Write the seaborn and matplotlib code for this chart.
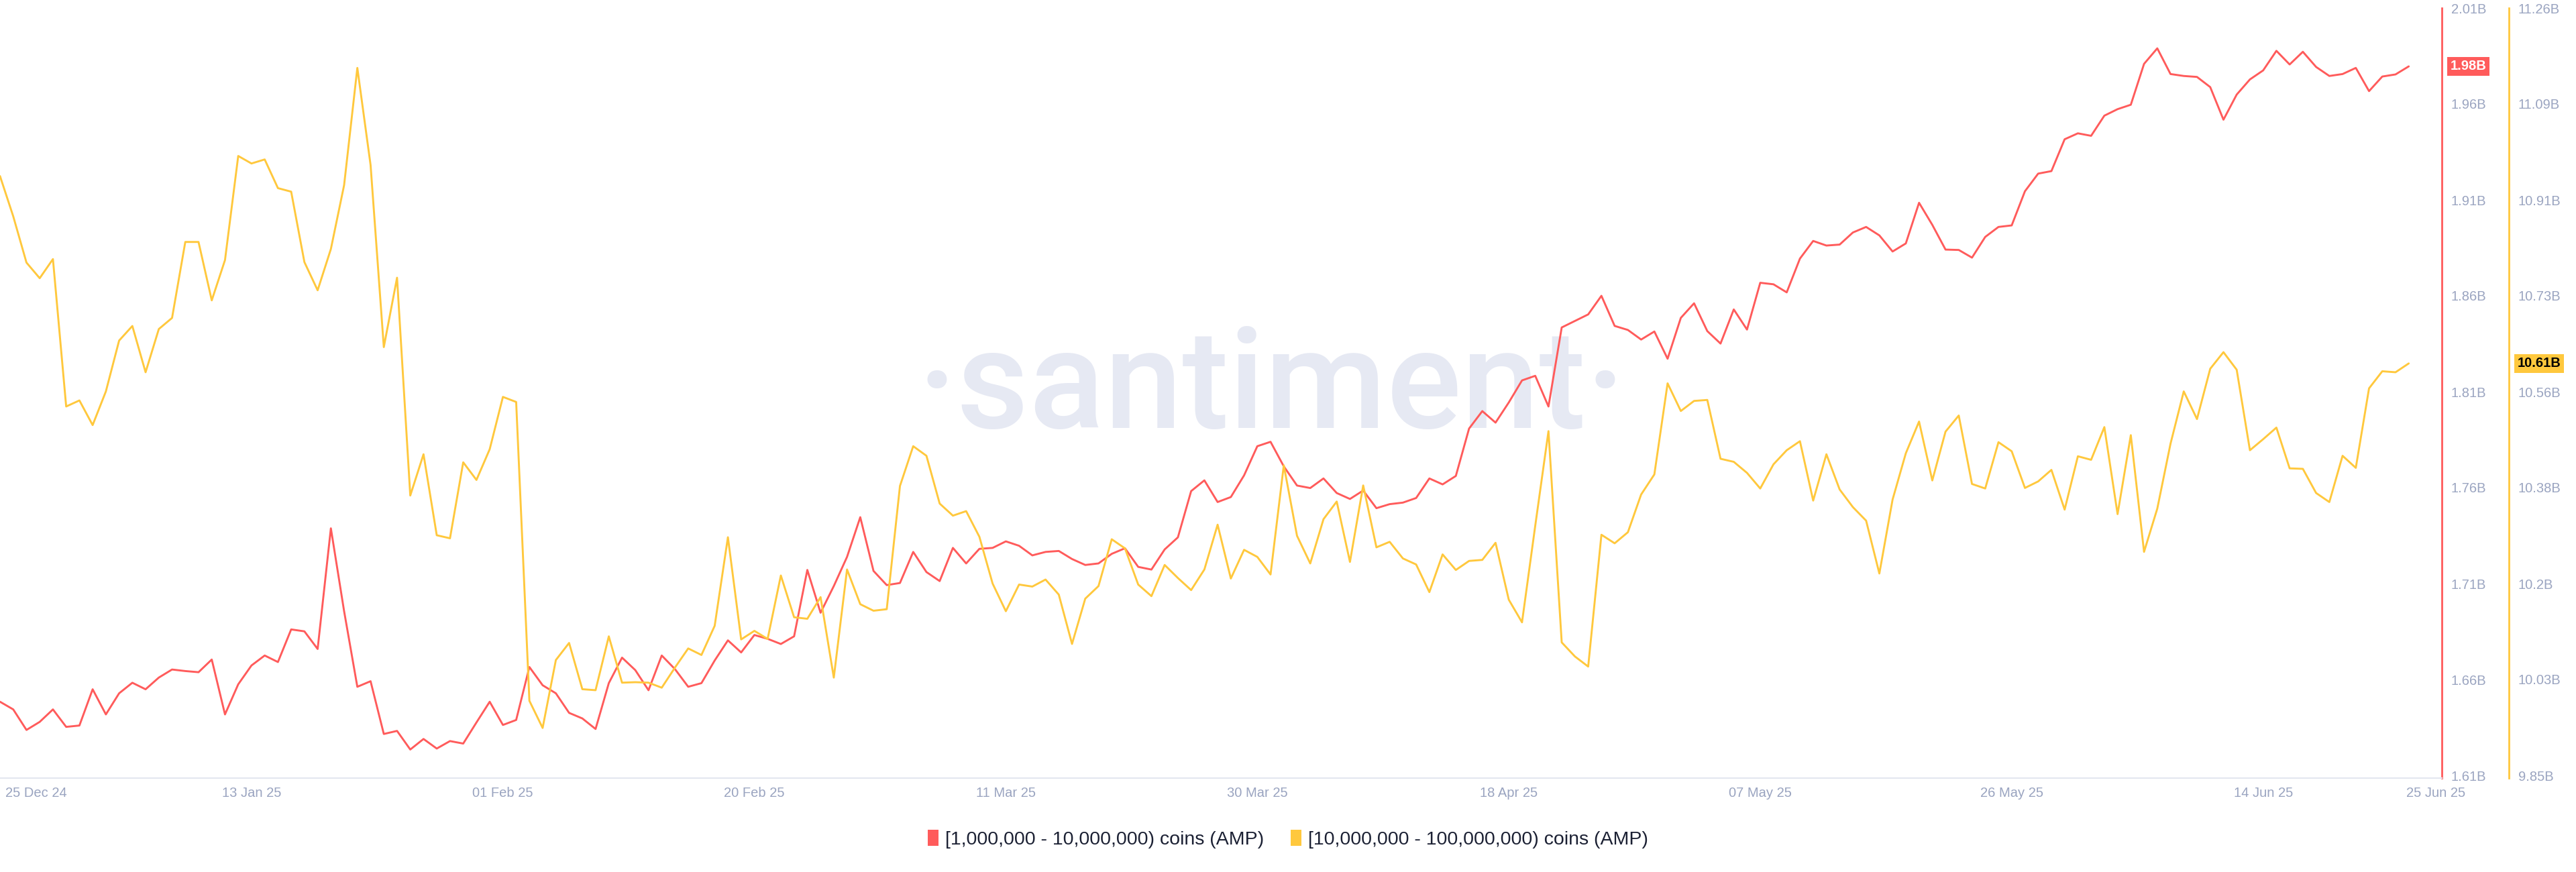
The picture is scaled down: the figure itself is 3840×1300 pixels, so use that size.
import numpy as np
import pandas as pd
import matplotlib
matplotlib.use("Agg")
import matplotlib.pyplot as plt
import matplotlib.transforms as mtransforms
from matplotlib.patches import Patch
import seaborn as sns

# ---------------- data ----------------
start_date = "2024-12-25"

red_series = [
    1.6484, 1.6444, 1.6337, 1.6379, 1.6444, 1.6353, 1.6360, 1.6549, 1.6418, 1.6528,
    1.6583, 1.6549, 1.6610, 1.6652, 1.6644, 1.6638, 1.6704, 1.6418, 1.6575, 1.6673,
    1.6725, 1.6691, 1.6861, 1.6851, 1.6759, 1.7388, 1.6956, 1.6562, 1.6591, 1.6316,
    1.6332, 1.6235, 1.6290, 1.6240, 1.6279, 1.6266, 1.6376, 1.6484, 1.6363, 1.6389,
    1.6665, 1.6570, 1.6528, 1.6426, 1.6397, 1.6342, 1.6581, 1.6714, 1.6649, 1.6544,
    1.6725, 1.6654, 1.6562, 1.6581, 1.6699, 1.6804, 1.6741, 1.6832, 1.6812, 1.6785,
    1.6825, 1.7171, 1.6948, 1.7087, 1.7239, 1.7446, 1.7166, 1.7092, 1.7103, 1.7265,
    1.7160, 1.7113, 1.7286, 1.7205, 1.7281, 1.7286, 1.7320, 1.7297, 1.7247, 1.7265,
    1.7270, 1.7228, 1.7197, 1.7205, 1.7255, 1.7284, 1.7187, 1.7173, 1.7278, 1.7341,
    1.7582, 1.7638, 1.7525, 1.7551, 1.7664, 1.7816, 1.7839, 1.7711, 1.7611, 1.7598,
    1.7648, 1.7572, 1.7541, 1.7585, 1.7493, 1.7514, 1.7522, 1.7546, 1.7648, 1.7617,
    1.7661, 1.7908, 1.7999, 1.7939, 1.8044, 1.8159, 1.8183, 1.8023, 1.8435, 1.8469,
    1.8503, 1.8600, 1.8443, 1.8422, 1.8372, 1.8414, 1.8272, 1.8485, 1.8561, 1.8416,
    1.8351, 1.8529, 1.8424, 1.8668, 1.8660, 1.8618, 1.8794, 1.8886, 1.8862, 1.8867,
    1.8930, 1.8959, 1.8915, 1.8831, 1.8873, 1.9085, 1.8970, 1.8841, 1.8839, 1.8799,
    1.8907, 1.8959, 1.8967, 1.9145, 1.9237, 1.9250, 1.9416, 1.9447, 1.9434, 1.9539,
    1.9573, 1.9596, 1.9809, 1.9890, 1.9756, 1.9746, 1.9741, 1.9688, 1.9518, 1.9649,
    1.9728, 1.9775, 1.9877, 1.9806, 1.9872, 1.9793, 1.9746, 1.9756, 1.9788, 1.9667,
    1.9743, 1.9754, 1.9796,
]

yellow_series = [
    10.9513, 10.8773, 10.7923, 10.7636, 10.7987, 10.5279, 10.5390, 10.4937, 10.5556, 10.6490,
    10.6758, 10.5908, 10.6702, 10.6906, 10.8302, 10.8302, 10.7229, 10.7969, 10.9882, 10.9744,
    10.9818, 10.9291, 10.9226, 10.7932, 10.7414, 10.8172, 10.9346, 11.1500, 10.9716, 10.6370,
    10.7645, 10.3643, 10.4401, 10.2913, 10.2857, 10.4253, 10.3929, 10.4493, 10.5455, 10.5362,
    9.9871, 9.9372, 10.0620, 10.0934, 10.0084, 10.0066, 10.1055, 10.0204, 10.0213, 10.0204,
    10.0112, 10.0482, 10.0833, 10.0713, 10.1249, 10.2876, 10.0999, 10.1156, 10.1008, 10.2173,
    10.1406, 10.1378, 10.1776, 10.0297, 10.2284, 10.1646, 10.1526, 10.1554, 10.3819, 10.4549,
    10.4373, 10.3495, 10.3273, 10.3356, 10.2885, 10.2025, 10.1517, 10.2007, 10.1970, 10.2099,
    10.1822, 10.0916, 10.1748, 10.1979, 10.2839, 10.2672, 10.2007, 10.1794, 10.2367, 10.2127,
    10.1905, 10.2284, 10.3107, 10.2118, 10.2645, 10.2515, 10.2192, 10.4198, 10.2903, 10.2395,
    10.3208, 10.3532, 10.2423, 10.3828, 10.2691, 10.2792, 10.2487, 10.2376, 10.1868, 10.2561,
    10.2275, 10.2441, 10.2460, 10.2774, 10.1729, 10.1313, 10.3088, 10.4826, 10.0944, 10.0685,
    10.0500, 10.2922, 10.2765, 10.2968, 10.3661, 10.4031, 10.5704, 10.5196, 10.5381, 10.5399,
    10.4318, 10.4262, 10.4059, 10.3772, 10.4216, 10.4475, 10.4641, 10.3550, 10.4401, 10.3754,
    10.3430, 10.3181, 10.2210, 10.3569, 10.4419, 10.5002, 10.3920, 10.4817, 10.5113, 10.3855,
    10.3772, 10.4623, 10.4456, 10.3782, 10.3902, 10.4114, 10.3384, 10.4364, 10.4299, 10.4900,
    10.3301, 10.4752, 10.2608, 10.3402, 10.4595, 10.5556, 10.5048, 10.5972, 10.6277, 10.5954,
    10.4475, 10.4678, 10.4891, 10.4142, 10.4133, 10.3689, 10.3523, 10.4373, 10.4151, 10.5612,
    10.5926, 10.5908, 10.6070,
]

red_label = "[1,000,000 - 10,000,000) coins (AMP)"
yellow_label = "[10,000,000 - 100,000,000) coins (AMP)"

xtick_dates = ["2024-12-25", "2025-01-13", "2025-02-01", "2025-02-20", "2025-03-11",
               "2025-03-30", "2025-04-18", "2025-05-07", "2025-05-26", "2025-06-14",
               "2025-06-25"]
xtick_labels = ["25 Dec 24", "13 Jan 25", "01 Feb 25", "20 Feb 25", "11 Mar 25",
                "30 Mar 25", "18 Apr 25", "07 May 25", "26 May 25", "14 Jun 25",
                "25 Jun 25"]

red_ticks = [1.61, 1.66, 1.71, 1.76, 1.81, 1.86, 1.91, 1.96, 2.01]
red_tick_labels = ["1.61B", "1.66B", "1.71B", "1.76B", "1.81B", "1.86B", "1.91B",
                   "1.96B", "2.01B"]
yellow_ticks = [9.85, 10.02625, 10.2025, 10.37875, 10.555, 10.73125, 10.9075,
                11.08375, 11.26]
yellow_tick_labels = ["9.85B", "10.03B", "10.2B", "10.38B", "10.56B", "10.73B",
                      "10.91B", "11.09B", "11.26B"]

# ---------------- style ----------------
RED = "#FF5B5B"
YEL = "#FFC83D"
TICK_C = "#9AA4C0"
AXIS_C = "#E4E7F0"
WM_C = "#E6E9F3"

sns.set_theme(style="white")
plt.rcParams["font.family"] = ["Liberation Sans", "DejaVu Sans"]

W, H = 3840, 1300
fig = plt.figure(figsize=(W / 100, H / 100), dpi=100)
fig.patch.set_facecolor("white")

top_px, bot_px, right_px = 12, 1160, 3640
ax = fig.add_axes([0, 1 - bot_px / H, right_px / W, (bot_px - top_px) / H])

df = pd.DataFrame({
    "date": pd.date_range(start_date, periods=len(red_series), freq="D"),
    "red": red_series,
    "yellow": yellow_series,
})

sns.lineplot(data=df, x="date", y="red", ax=ax, color=RED, linewidth=2.1,
             legend=False, zorder=3)
ax2 = ax.twinx()
sns.lineplot(data=df, x="date", y="yellow", ax=ax2, color=YEL, linewidth=2.1,
             legend=False, zorder=3)

x0 = pd.Timestamp(start_date)
ax.set_xlim(x0, x0 + pd.Timedelta(days=184.5))
ax.set_ylim(1.61 - 4 * 0.40 / 1144, 2.01)
ax2.set_ylim(9.85 - 4 * 1.41 / 1144, 11.26)

for a in (ax, ax2):
    a.set_xlabel("")
    a.set_ylabel("")
    a.grid(False)

# x axis
ax.set_xticks(pd.to_datetime(xtick_dates))
ax.set_xticklabels(xtick_labels)
ax.tick_params(axis="x", length=0, pad=9, labelsize=14.5, colors=TICK_C)
xl = ax.get_xticklabels()
xl[0].set_ha("left")
xl[0].set_transform(xl[0].get_transform() +
                    mtransforms.ScaledTranslation(0.08, 0, fig.dpi_scale_trans))
xl[-1].set_transform(xl[-1].get_transform() +
                     mtransforms.ScaledTranslation(0.40, 0, fig.dpi_scale_trans))

# red axis (right, at plot edge)
ax.yaxis.tick_right()
ax.set_yticks(red_ticks)
ax.set_yticklabels(red_tick_labels)
ax.tick_params(axis="y", length=0, pad=10, labelsize=14.5, colors=TICK_C)

# yellow axis (right, offset)
ax2.set_yticks(yellow_ticks)
ax2.set_yticklabels(yellow_tick_labels)
ax2.tick_params(axis="y", length=0, pad=10, labelsize=14.5, colors=TICK_C)
ax2.spines["right"].set_position(("outward", 72))

for s in ("top", "left"):
    ax.spines[s].set_visible(False)
ax.spines["bottom"].set_color(AXIS_C)
ax.spines["bottom"].set_linewidth(1.6)
ax.spines["right"].set_color(RED)
ax.spines["right"].set_linewidth(2.0)
for s in ("top", "left", "bottom"):
    ax2.spines[s].set_visible(False)
ax2.spines["right"].set_color(YEL)
ax2.spines["right"].set_linewidth(2.0)

# last value badges
ax.annotate(f"{red_series[-1]:.2f}B", xy=(1, red_series[-1]),
            xycoords=("axes fraction", "data"), xytext=(9, 0),
            textcoords="offset points", ha="left", va="center",
            color="white", fontsize=14.5, fontweight="bold",
            bbox=dict(boxstyle="square,pad=0.22", fc=RED, ec="none"),
            annotation_clip=False, zorder=5)
ax2.annotate(f"{yellow_series[-1]:.2f}B", xy=(1, yellow_series[-1]),
             xycoords=("axes fraction", "data"), xytext=(81, 0),
             textcoords="offset points", ha="left", va="center",
             color="black", fontsize=14.5, fontweight="bold",
             bbox=dict(boxstyle="square,pad=0.22", fc=YEL, ec="none"),
             annotation_clip=False, zorder=5)

# watermark
ax.text(1895 / W, 1 - 638 / H, "·santiment·", transform=fig.transFigure,
        ha="center", va="baseline", fontsize=150, color=WM_C,
        fontweight="medium", family=["Roboto", "DejaVu Sans"], zorder=0)

# legend
handles = [Patch(facecolor=RED, edgecolor="none"),
           Patch(facecolor=YEL, edgecolor="none")]
fig.legend(handles, [red_label, yellow_label], loc="center",
           bbox_to_anchor=(0.5, 1 - 1251 / H), ncol=2, frameon=False,
           fontsize=20.5, handlelength=0.55, handleheight=0.9,
           handletextpad=0.35, columnspacing=1.4, labelcolor="#1B2033")

fig.savefig("out.png", dpi=100, facecolor="white")
